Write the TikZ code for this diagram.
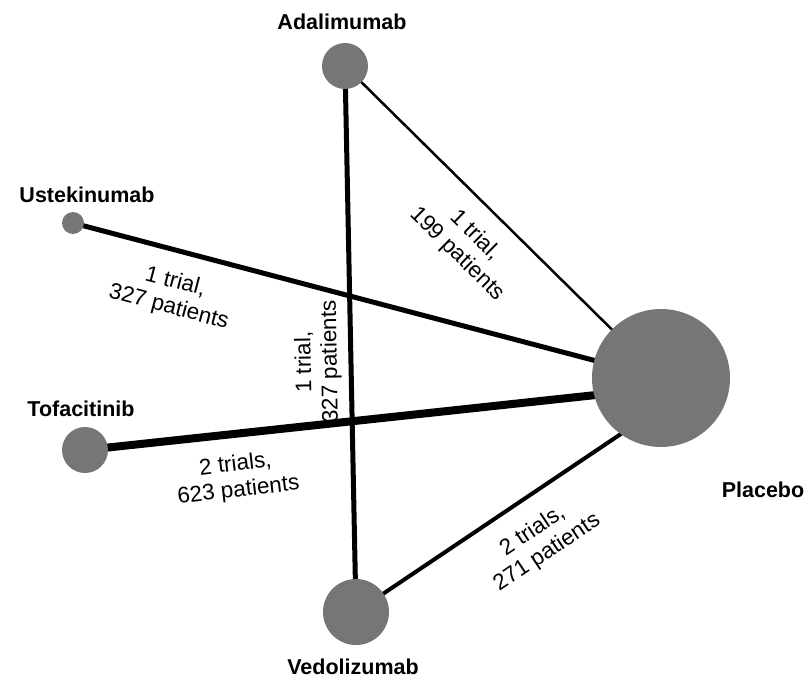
\documentclass[tikz,border=0pt]{standalone}
\usepackage{fontspec}
\setmainfont{Liberation Sans}
\usetikzlibrary{ backgrounds, % For drawing the links behind the circles
               }
\definecolor{trtgray}{RGB}{118,118,118}
\tikzstyle{treat} = [circle, fill=trtgray, inner sep=0pt]
\tikzstyle{drug} = [font=\fontsize{21.5}{24}\selectfont\bfseries]
\tikzstyle{trials} = [font=\fontsize{22.5}{26}\selectfont, align=center]
\tikzstyle{link} = [draw=black]

\begin{document}
\begin{tikzpicture}[x=1pt, y=-1pt]
  \useasboundingbox (0,0) rectangle (811,685);
  \node (ada) [treat, minimum size=46pt] at (345, 66) {};
  \node (ust) [treat, minimum size=22pt] at (73, 223) {};
  \node (tof) [treat, minimum size=46pt] at (85, 450) {};
  \node (ved) [treat, minimum size=66pt] at (356, 612) {};
  \node (plc) [treat, minimum size=138pt] at (661, 378) {};

  \node (ada_l) [drug] at (342, 22) {Adalimumab};
  \node (ust_l) [drug] at (87, 195) {Ustekinumab};
  \node (tof_l) [drug] at (81, 409) {Tofacitinib};
  \node (ved_l) [drug] at (353, 667) {Vedolizumab};
  \node (plc_l) [drug] at (763, 490) {Placebo};

  \begin{pgfonlayer}{background}
    \path [link, line width=2.5pt] (ada.center) edge (plc.center);
    \path [link, line width=5pt] (ust.center) edge (plc.center);
    \path [link, line width=8pt] (tof.center) edge ([yshift=-10pt]plc.center);
    \path [link, line width=4pt] (ved.center) edge ([yshift=-29pt]plc.center);
    \path [link, line width=5pt] (ada.center) edge (ved.center);
  \end{pgfonlayer}

  \node (ada_plc) [trials, rotate=-44.5] at (466, 245) {1 trial,\\199 patients};
  \node (ust_plc) [trials, rotate=-14.7] at (172, 295) {1 trial,\\327 patients};
  \node (ada_ved) [trials, rotate=91] at (318, 362) {1 trial,\\327 patients};
  \node (tof_plc) [trials, rotate=6.6] at (237, 478) {2 trials,\\623 patients};
  \node (ved_plc) [trials, rotate=33.7] at (540, 542) {2 trials,\\271 patients};
\end{tikzpicture}
\end{document}
